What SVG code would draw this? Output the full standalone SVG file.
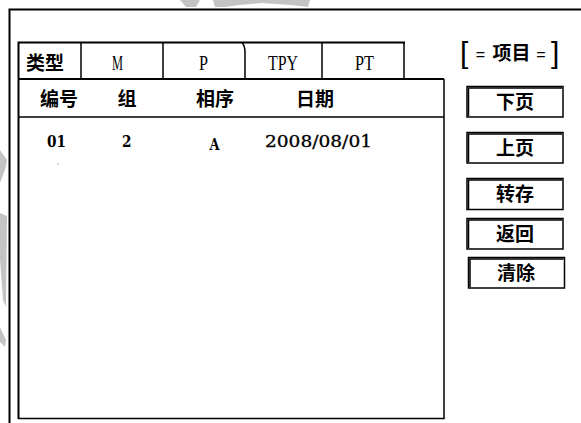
<svg xmlns="http://www.w3.org/2000/svg" width="581" height="423" viewBox="0 0 581 423">
<style>
.ln{stroke:#000;fill:none}
.cjk{font-family:"Noto Sans CJK SC","Liberation Sans",sans-serif;font-weight:bold;fill:#000}
.tab{font-family:"Liberation Serif",serif;font-size:20px;fill:#000}
.dat{font-family:"DejaVu Serif","Liberation Serif",serif;font-weight:bold;font-size:17px;fill:#000}
.date{font-family:"DejaVu Serif","Liberation Serif",serif;font-size:16px;fill:#000;stroke:#000;stroke-width:0.3}
.btn{fill:#fff;stroke:#000;stroke-width:1.5}
.wm{fill:#c4c4c4}
.sym{font-family:"Liberation Sans",sans-serif;fill:#000}
</style>
<rect width="581" height="423" fill="#fff"/>
<g id="watermark">
<polygon class="wm" points="180,0 200,0 196,7 186,7"/>
<polygon class="wm" points="213,0 310,0 308,7 290,5 262,3 240,5 225,7 215,7"/>
<polygon class="wm" points="0,150 7,160 5,170 0,183"/>
<polygon class="wm" points="0,213 7,216 6,307 3,300 0,260"/>
<polygon class="wm" points="0,327 6,340 5,347 0,342"/>
</g>
<g id="frame">
<path class="ln" stroke-width="2" d="M9.5,423 V9.5 H581"/>
</g>
<g id="table">
<path class="ln" stroke-width="2" d="M18.5,419 V42.5 H405 M18.5,79 H444"/>
<path class="ln" stroke-width="1.5" d="M444,79 V418.5 H18.5 M18.5,117 H444"/>
<path class="ln" stroke-width="1.5" d="M81,42.5 V79 M163,42.5 V79 M242,42.5 Q245,46 245,52 V79 M322,42.5 V79 M404,42.5 V79"/>
</g>
<g id="tabs">
<text class="cjk" x="45" y="70" font-size="19" text-anchor="middle">类型</text>
<text class="tab" x="112" y="70" textLength="11" lengthAdjust="spacingAndGlyphs">M</text>
<text class="tab" x="199" y="70" textLength="9" lengthAdjust="spacingAndGlyphs">P</text>
<text class="tab" x="268" y="70" textLength="30" lengthAdjust="spacingAndGlyphs">TPY</text>
<text class="tab" x="355" y="70" textLength="19" lengthAdjust="spacingAndGlyphs">PT</text>
</g>
<g id="header">
<text class="cjk" x="59" y="106" font-size="19" text-anchor="middle">编号</text>
<text class="cjk" x="127" y="106" font-size="19" text-anchor="middle">组</text>
<text class="cjk" x="215" y="106" font-size="19" text-anchor="middle">相序</text>
<text class="cjk" x="315" y="106" font-size="19" text-anchor="middle">日期</text>
</g>
<g id="row1">
<text class="dat" x="47" y="147" textLength="19" lengthAdjust="spacingAndGlyphs">01</text>
<text class="dat" x="122" y="147" textLength="9.5" lengthAdjust="spacingAndGlyphs">2</text>
<text class="dat" x="209.5" y="150" textLength="10" lengthAdjust="spacingAndGlyphs">A</text>
<text class="date" x="265" y="147" textLength="107" lengthAdjust="spacingAndGlyphs">2008/08/01</text>
<rect x="57.5" y="163.5" width="1" height="1" fill="#555"/>
</g>
<g id="title">
<text class="sym" x="460" y="63" font-size="30">[</text>
<text class="sym" x="480.5" y="60" font-size="16" text-anchor="middle">=</text>
<text class="cjk" x="511.5" y="60" font-size="19" text-anchor="middle">项目</text>
<text class="sym" x="541" y="60" font-size="16" text-anchor="middle">=</text>
<text class="sym" x="551" y="63" font-size="30">]</text>
</g>
<g id="btn-next">
<rect class="btn" x="467" y="86.5" width="96" height="30.5"/>
<path class="ln" stroke-width="1.5" d="M468.5,116 V88 H562"/>
<text class="cjk" x="515" y="109" font-size="19" text-anchor="middle">下页</text>
</g>
<g id="btn-prev">
<rect class="btn" x="467" y="132.5" width="96" height="30.5"/>
<path class="ln" stroke-width="1.5" d="M468.5,162 V134 H562"/>
<text class="cjk" x="515" y="155" font-size="19" text-anchor="middle">上页</text>
</g>
<g id="btn-save">
<rect class="btn" x="467" y="178.5" width="96" height="31"/>
<path class="ln" stroke-width="1.5" d="M468.5,209 V180 H562"/>
<text class="cjk" x="515" y="201" font-size="19" text-anchor="middle">转存</text>
</g>
<g id="btn-back">
<rect class="btn" x="467" y="218.5" width="96" height="30.5"/>
<path class="ln" stroke-width="1.5" d="M468.5,248 V220 H562"/>
<text class="cjk" x="515" y="241" font-size="19" text-anchor="middle">返回</text>
</g>
<g id="btn-clear">
<rect class="btn" x="468.5" y="257.5" width="96" height="30.5"/>
<path class="ln" stroke-width="1.5" d="M470,287 V259 H563.5"/>
<text class="cjk" x="516" y="280" font-size="19" text-anchor="middle">清除</text>
</g>
</svg>
